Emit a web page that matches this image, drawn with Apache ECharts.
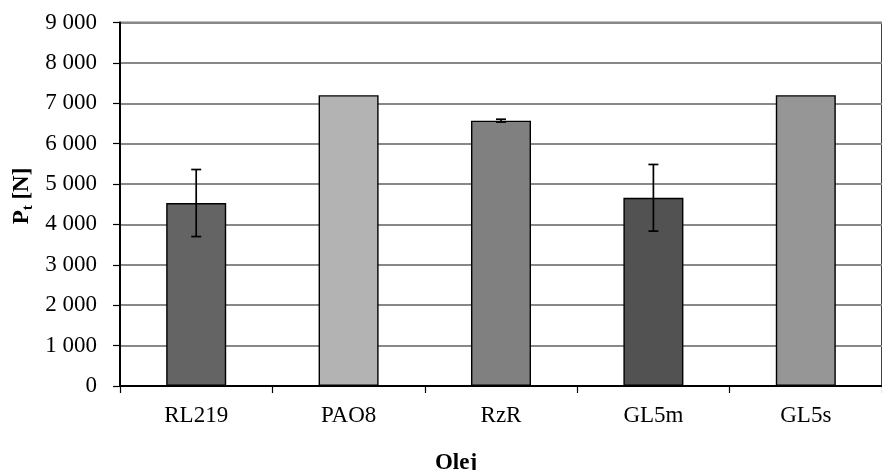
<!DOCTYPE html>
<html>
<head>
<meta charset="utf-8">
<script src="https://cdn.jsdelivr.net/npm/echarts@6/dist/echarts.min.js"></script>
<style>
  html, body { margin: 0; padding: 0; background: #fff; }
  #chart { width: 882px; height: 470px; }
</style>
</head>
<body>
<div id="chart"></div>
<script>
// Oils and their measured load P_t with standard deviations
const categories = ['RL219', 'PAO8', 'RzR', 'GL5m', 'GL5s'];
const values = [4530, 7200, 6570, 4660, 7200];
const errors = [830, 0, 35, 825, 0];
const barColors = ['#646464', '#b3b3b3', '#808080', '#525252', '#969696'];
const yTicks = [0, 1000, 2000, 3000, 4000, 5000, 6000, 7000, 8000, 9000];

const FONT = '"Liberation Serif", "Times New Roman", serif';

function fmtThousands(v) {
  const s = String(v);
  return s.length > 3 ? s.slice(0, s.length - 3) + ' ' + s.slice(-3) : s;
}

const chart = echarts.init(document.getElementById('chart'), null, { renderer: 'canvas' });

const option = {
  animation: false,
  backgroundColor: '#ffffff',
  grid: {
    left: 120, top: 22.5, width: 769, height: 363.5,
    show: true, borderColor: '#000', borderWidth: 1.5, backgroundColor: 'transparent'
  },
  xAxis: {
    type: 'category',
    data: categories,
    axisLine: { lineStyle: { color: '#000', width: 2 } },
    axisTick: { show: true, length: 7, lineStyle: { color: '#000', width: 1.2 } },
    axisLabel: { color: '#000', fontFamily: FONT, fontSize: 23, margin: 18 },
    splitLine: { show: false }
  },
  yAxis: {
    type: 'value',
    min: yTicks[0],
    max: yTicks[yTicks.length - 1],
    interval: 1000,
    axisLine: { show: true, lineStyle: { color: '#000', width: 2 } },
    axisTick: { show: true, length: 7, lineStyle: { color: '#000', width: 1.2 } },
    axisLabel: { color: '#000', fontFamily: FONT, fontSize: 23, margin: 23, formatter: fmtThousands },
    splitLine: { show: true, lineStyle: { color: '#888888', width: 1.8 } }
  },
  series: [
    {
      type: 'bar',
      data: values.map((v, i) => ({ value: v, itemStyle: { color: barColors[i] } })),
      barWidth: 60,
      itemStyle: { borderColor: '#000', borderWidth: 1.4 },
      z: 2
    },
    {
      type: 'custom',
      z: 5,
      data: values.map((v, i) => [i, v, errors[i]]),
      renderItem: function (params, api) {
        const idx = api.value(0);
        const v = api.value(1);
        const e = api.value(2);
        if (!e) return null;
        const hi = api.coord([idx, v + e]);
        const lo = api.coord([idx, v - e]);
        const half = 5;
        const style = { stroke: '#000', lineWidth: 1.7 };
        return {
          type: 'group',
          children: [
            { type: 'line', shape: { x1: hi[0], y1: hi[1], x2: lo[0], y2: lo[1] }, style: style },
            { type: 'line', shape: { x1: hi[0] - half, y1: hi[1], x2: hi[0] + half, y2: hi[1] }, style: style },
            { type: 'line', shape: { x1: lo[0] - half, y1: lo[1], x2: lo[0] + half, y2: lo[1] }, style: style }
          ]
        };
      }
    }
  ],
  graphic: [
    {
      type: 'text',
      x: 22, y: 196,
      rotation: Math.PI / 2,
      style: {
        text: '{p|P}{s|t}{p| [N]}',
        align: 'center',
        verticalAlign: 'middle',
        fill: '#000',
        rich: {
          p: { fontFamily: FONT, fontWeight: 'bold', fontSize: 23, lineHeight: 27, fill: '#000' },
          s: { fontFamily: FONT, fontWeight: 'bold', fontSize: 15, lineHeight: 27, verticalAlign: 'bottom', fill: '#000' }
        }
      }
    },
    {
      type: 'text',
      x: 456, y: 463,
      style: {
        text: 'Olej',
        align: 'center',
        verticalAlign: 'middle',
        fontFamily: FONT, fontWeight: 'bold', fontSize: 23, fill: '#000'
      }
    }
  ]
};

chart.setOption(option);
</script>
</body>
</html>
